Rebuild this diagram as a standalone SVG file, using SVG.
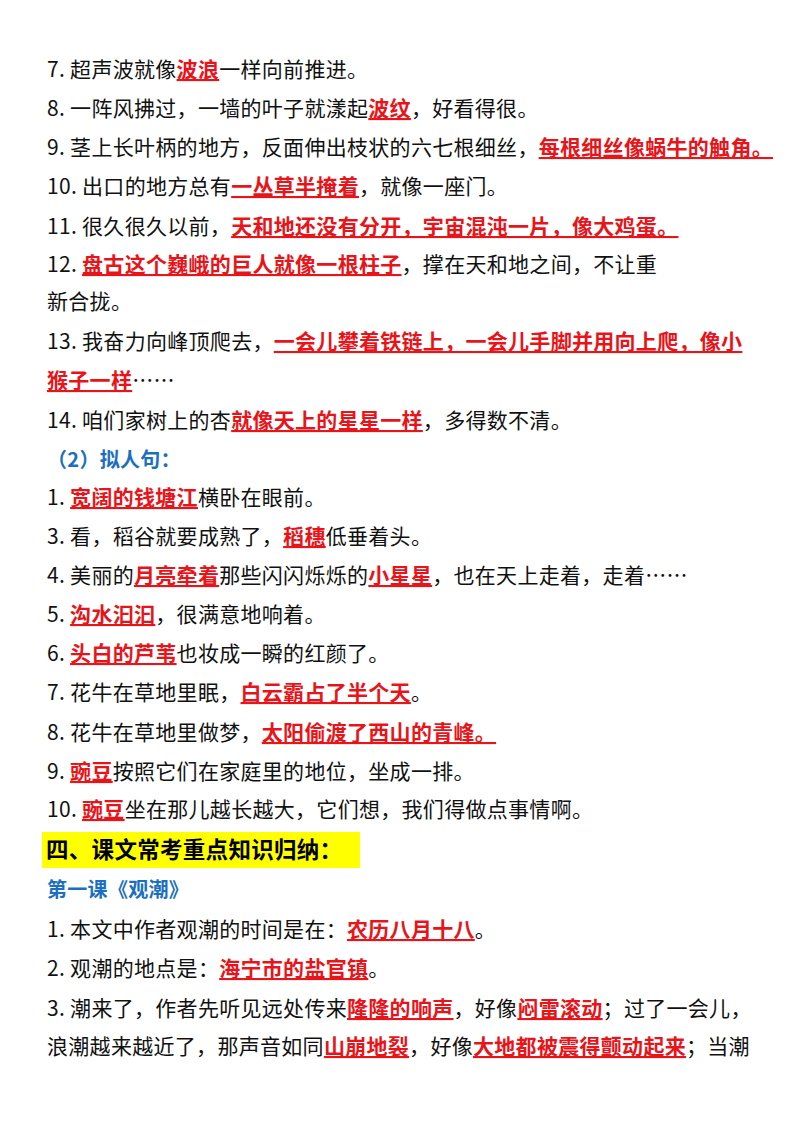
<svg xmlns="http://www.w3.org/2000/svg" width="800" height="1132" viewBox="0 0 800 1132">
<style>
text{font-family:"Noto Sans CJK SC","Liberation Sans",sans-serif;font-size:21px;letter-spacing:0.3px;fill:#111}
.r{fill:#e8141a;font-weight:bold;text-decoration:underline}
.b{fill:#1a6fc0;font-weight:bold;font-size:20px}
.h{font-weight:bold;font-size:22.5px;fill:#000}
</style>
<rect width="800" height="1132" fill="#fff"/>
<g id="content">
<text x="47" y="77">7. 超声波就像<tspan class="r">波浪</tspan>一样向前推进。</text>
<text x="47" y="116">8. 一阵风拂过，一墙的叶子就漾起<tspan class="r">波纹</tspan>，好看得很。</text>
<text x="47" y="155">9. 茎上长叶柄的地方，反面伸出枝状的六七根细丝，<tspan class="r">每根细丝像蜗牛的触角。</tspan></text>
<text x="47" y="194">10. 出口的地方总有<tspan class="r">一丛草半掩着</tspan>，就像一座门。</text>
<text x="47" y="234">11. 很久很久以前，<tspan class="r">天和地还没有分开，宇宙混沌一片，像大鸡蛋。</tspan></text>
<text x="47" y="272">12. <tspan class="r">盘古这个巍峨的巨人就像一根柱子</tspan>，撑在天和地之间，不让重</text>
<text x="47" y="309">新合拢。</text>
<text x="47" y="349">13. 我奋力向峰顶爬去，<tspan class="r">一会儿攀着铁链上，一会儿手脚并用向上爬，像小</tspan></text>
<text x="47" y="388"><tspan class="r">猴子一样</tspan>……</text>
<text x="47" y="428">14. 咱们家树上的杏<tspan class="r">就像天上的星星一样</tspan>，多得数不清。</text>
<text x="47" y="467" class="b">（2）拟人句：</text>
<text x="47" y="505">1. <tspan class="r">宽阔的钱塘江</tspan>横卧在眼前。</text>
<text x="47" y="544">3. 看，稻谷就要成熟了，<tspan class="r">稻穗</tspan>低垂着头。</text>
<text x="47" y="583">4. 美丽的<tspan class="r">月亮牵着</tspan>那些闪闪烁烁的<tspan class="r">小星星</tspan>，也在天上走着，走着……</text>
<text x="47" y="622">5. <tspan class="r">沟水汩汩</tspan>，很满意地响着。</text>
<text x="47" y="661">6. <tspan class="r">头白的芦苇</tspan>也妆成一瞬的红颜了。</text>
<text x="47" y="700">7. 花牛在草地里眠，<tspan class="r">白云霸占了半个天</tspan>。</text>
<text x="47" y="740">8. 花牛在草地里做梦，<tspan class="r">太阳偷渡了西山的青峰。</tspan></text>
<text x="47" y="779">9. <tspan class="r">豌豆</tspan>按照它们在家庭里的地位，坐成一排。</text>
<text x="47" y="817">10. <tspan class="r">豌豆</tspan>坐在那儿越长越大，它们想，我们得做点事情啊。</text>
<rect x="42" y="832" width="318" height="36" fill="#ffff00"/>
<text x="46" y="858" class="h">四、课文常考重点知识归纳：</text>
<text x="47" y="897" class="b">第一课《观潮》</text>
<text x="47" y="937">1. 本文中作者观潮的时间是在：<tspan class="r">农历八月十八</tspan>。</text>
<text x="47" y="976">2. 观潮的地点是：<tspan class="r">海宁市的盐官镇</tspan>。</text>
<text x="47" y="1016">3. 潮来了，作者先听见远处传来<tspan class="r">隆隆的响声</tspan>，好像<tspan class="r">闷雷滚动</tspan>；过了一会儿，</text>
<text x="47" y="1054">浪潮越来越近了，那声音如同<tspan class="r">山崩地裂</tspan>，好像<tspan class="r">大地都被震得颤动起来</tspan>；当潮</text>
</g>
</svg>
